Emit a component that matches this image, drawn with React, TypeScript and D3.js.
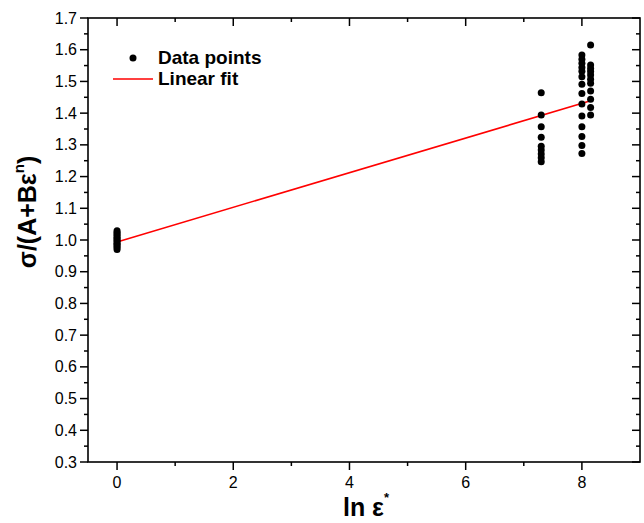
import React from "react";
import * as d3 from "d3";

const xTicksMajor = [0, 2, 4, 6, 8];
const xTicksMinor = [1, 3, 5, 7];
const yTicksMajor = [0.3, 0.4, 0.5, 0.6, 0.7, 0.8, 0.9, 1.0, 1.1, 1.2, 1.3, 1.4, 1.5, 1.6, 1.7];
const yTicksMinor = [0.35, 0.45, 0.55, 0.65, 0.75, 0.85, 0.95, 1.05, 1.15, 1.25, 1.35, 1.45, 1.55, 1.65];

const group0 = [0.97, 0.976, 0.981, 0.986, 0.99, 0.995, 1.0, 1.004, 1.009, 1.014, 1.019, 1.024, 1.029];
const group73 = [1.464, 1.394, 1.357, 1.324, 1.296, 1.284, 1.271, 1.259, 1.247];
const group80 = [1.583, 1.57, 1.557, 1.544, 1.532, 1.515, 1.491, 1.462, 1.429, 1.391, 1.357, 1.326, 1.298, 1.273];
const group815 = [1.615, 1.552, 1.541, 1.531, 1.52, 1.507, 1.494, 1.47, 1.444, 1.418, 1.394];
const groupX = [0, 7.3, 8.0, 8.15];

const fitX = [0, 8.15];
const fitIntercept = 0.994;
const fitSlope = 0.0546;

const font = "'Liberation Sans', Arial, sans-serif";

export default function App() {
  const W = 644, H = 523;
  const left = 88, right = 640, top = 18, bottom = 462;
  const x = d3.scaleLinear().domain([-0.5, 9]).range([left, right]);
  const y = d3.scaleLinear().domain([0.3, 1.7]).range([bottom, top]);

  const groups = [group0, group73, group80, group815];
  const points: { x: number; y: number }[] = [];
  groups.forEach((g, i) => g.forEach((v) => points.push({ x: groupX[i], y: v })));

  const line = d3
    .line<number>()
    .x((d) => x(d))
    .y((d) => y(fitIntercept + fitSlope * d));

  const major = 8, minor = 4;

  return (
    <svg width={W} height={H} style={{ position: "absolute", left: 0, top: 0, background: "#fff" }}>
      <rect x={0} y={0} width={W} height={H} fill="#fff" />
      {/* fit line */}
      <path d={line(fitX) || ""} stroke="#ff0000" strokeWidth={1.6} fill="none" />
      {/* points */}
      {points.map((p, i) => (
        <circle key={i} cx={x(p.x)} cy={y(p.y)} r={3.5} fill="#000" />
      ))}
      {/* frame */}
      <rect x={left} y={top} width={right - left} height={bottom - top} fill="none" stroke="#000" strokeWidth={1.6} />
      {/* x ticks */}
      {xTicksMajor.map((t) => (
        <g key={"xm" + t}>
          <line x1={x(t)} x2={x(t)} y1={bottom} y2={bottom + major} stroke="#000" strokeWidth={1.5} />
          <line x1={x(t)} x2={x(t)} y1={top} y2={top + major} stroke="#000" strokeWidth={1.5} />
          <text x={x(t)} y={bottom + 26} textAnchor="middle" fontFamily={font} fontSize={16}>
            {t}
          </text>
        </g>
      ))}
      {xTicksMinor.map((t) => (
        <g key={"xn" + t}>
          <line x1={x(t)} x2={x(t)} y1={bottom} y2={bottom + minor} stroke="#000" strokeWidth={1.5} />
          <line x1={x(t)} x2={x(t)} y1={top} y2={top + minor} stroke="#000" strokeWidth={1.5} />
        </g>
      ))}
      {/* y ticks */}
      {yTicksMajor.map((t) => (
        <g key={"ym" + t}>
          <line x1={left - major} x2={left} y1={y(t)} y2={y(t)} stroke="#000" strokeWidth={1.5} />
          <line x1={right - major} x2={right} y1={y(t)} y2={y(t)} stroke="#000" strokeWidth={1.5} />
          <text x={left - 11} y={y(t) + 5.5} textAnchor="end" fontFamily={font} fontSize={16}>
            {t.toFixed(1)}
          </text>
        </g>
      ))}
      {yTicksMinor.map((t) => (
        <g key={"yn" + t}>
          <line x1={left - minor} x2={left} y1={y(t)} y2={y(t)} stroke="#000" strokeWidth={1.5} />
          <line x1={right - minor} x2={right} y1={y(t)} y2={y(t)} stroke="#000" strokeWidth={1.5} />
        </g>
      ))}
      {/* axis titles */}
      <text x={366} y={516} textAnchor="middle" fontFamily={font} fontSize={25} fontWeight="bold">
        ln ε<tspan fontSize={13} dy={-14}>*</tspan>
      </text>
      <text
        transform="translate(36,212) rotate(-90)"
        textAnchor="middle"
        fontFamily={font}
        fontSize={25}
        fontWeight="bold"
      >
        σ/(A+Bε<tspan fontSize={15} dy={-12}>n</tspan>
        <tspan dy={12}>)</tspan>
      </text>
      {/* legend */}
      <circle cx={133} cy={58} r={3.5} fill="#000" />
      <text x={158} y={64} fontFamily={font} fontSize={19} fontWeight="bold">
        Data points
      </text>
      <line x1={113} x2={153} y1={79} y2={79} stroke="#ff0000" strokeWidth={1.6} />
      <text x={158} y={85} fontFamily={font} fontSize={19} fontWeight="bold">
        Linear fit
      </text>
    </svg>
  );
}
